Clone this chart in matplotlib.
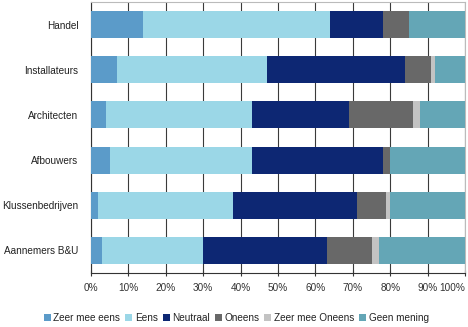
import numpy as np
import matplotlib
matplotlib.use("Agg")
import matplotlib.pyplot as plt

# Categories, top to bottom as in the chart
categories = ["Handel", "Installateurs", "Architecten", "Afbouwers",
              "Klussenbedrijven", "Aannemers B&U"]
series_names = ["Zeer mee eens", "Eens", "Neutraal", "Oneens",
                "Zeer mee Oneens", "Geen mening"]
tick_values = [0, 10, 20, 30, 40, 50, 60, 70, 80, 90, 100]
tick_labels = ["0%", "10%", "20%", "30%", "40%", "50%", "60%", "70%",
               "80%", "90%", "100%"]

# Percentages per category
zeer_mee_eens = [14, 7, 4, 5, 2, 3]
eens = [50, 40, 39, 38, 36, 27]
neutraal = [14, 37, 26, 35, 33, 33]
oneens = [7, 7, 17, 2, 8, 12]
zeer_mee_oneens = [0, 1, 2, 0, 1, 2]
geen_mening = [15, 8, 12, 20, 20, 23]

colors = ["#5b9bc9", "#9bd7e7", "#0d2773", "#686868", "#c3c3c3", "#64a6b6"]

plt.rcParams['font.family'] = ['Liberation Sans', 'DejaVu Sans']

fig = plt.figure(figsize=(4.68, 3.27), dpi=100)
axis = fig.add_axes([91 / 468, 1 - 273 / 327, 374 / 468, 271 / 327])

y = np.arange(len(categories))
left = np.zeros(len(categories))
for name, values, color in zip(series_names,
                               [zeer_mee_eens, eens, neutraal, oneens,
                                zeer_mee_oneens, geen_mening], colors):
    values = np.array(values, dtype=float)
    axis.barh(y, values, left=left, height=0.6, color=color, label=name,
              zorder=3)
    left += values

axis.set_yticks(y)
axis.set_yticklabels(categories)
axis.set_ylim(len(categories) - 0.5, -0.5)
axis.set_xlim(0, 100)
axis.set_xticks(tick_values)
axis.set_xticklabels(tick_labels)
# keep the 100% label inside the picture
axis.get_xticklabels()[-1].set_horizontalalignment("right")
axis.get_xticklabels()[-1].set_x(101)
axis.grid(axis="x", color="#3a3a3a", linewidth=0.8, zorder=0)

axis.tick_params(axis="x", labelsize=7.2, length=4, direction="inout",
                 color="#333333", pad=5, colors="#333333")
axis.tick_params(axis="y", labelsize=7.2, length=0, pad=9, colors="#222222")
for spine in ["top", "right"]:
    axis.spines[spine].set_color("#bbbbbb")
for spine in ["left", "bottom"]:
    axis.spines[spine].set_color("#333333")

legend = fig.legend(loc="center", bbox_to_anchor=(0.505, 1 - 318 / 327),
                    ncol=6, fontsize=7.2, frameon=False, handlelength=0.7,
                    handleheight=0.7, handletextpad=0.25, columnspacing=0.5,
                    borderaxespad=0)
for text in legend.get_texts():
    text.set_color("#222222")

fig.savefig("out.png", dpi=100)
